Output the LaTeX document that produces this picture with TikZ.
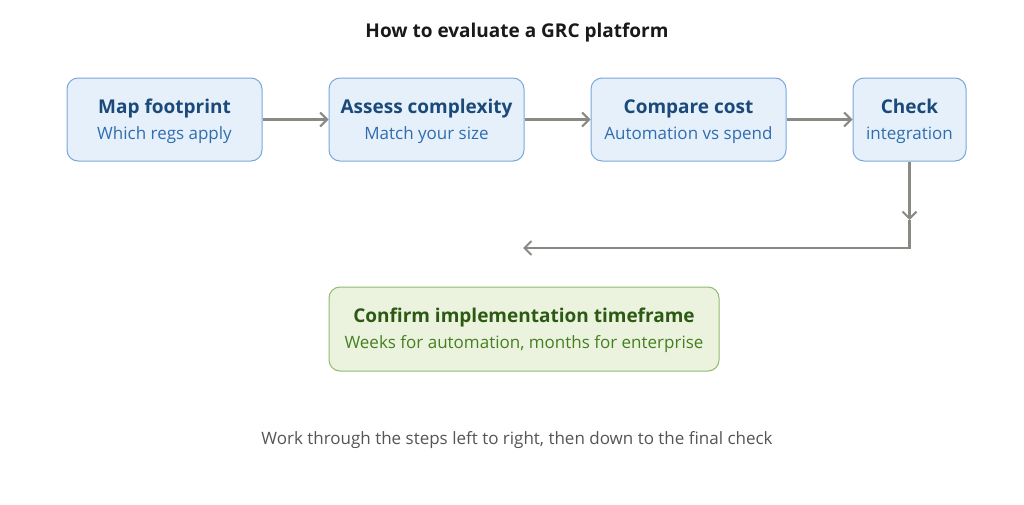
\documentclass[tikz,border=0pt]{standalone}
\usepackage{fontspec}
\setmainfont{Open Sans}
\usetikzlibrary{arrows.meta}
\definecolor{bfill}{HTML}{E6F0FA}
\definecolor{bdraw}{HTML}{7AA7D9}
\definecolor{btitle}{HTML}{1B4A7A}
\definecolor{bsub}{HTML}{2F6DB0}
\definecolor{gfill}{HTML}{EBF3DF}
\definecolor{gdraw}{HTML}{8EBB6C}
\definecolor{gtitle}{HTML}{2C5A12}
\definecolor{gsub}{HTML}{44801F}
\definecolor{arr}{HTML}{8A8A84}
\definecolor{foot}{HTML}{555555}
\tikzset{
  bbox/.style={draw=bdraw, fill=bfill, rounded corners=11pt, line width=1pt, inner sep=0pt},
  gbox/.style={draw=gdraw, fill=gfill, rounded corners=11pt, line width=1pt, inner sep=0pt},
  btxt/.style={text=btitle, font=\fontsize{19}{21}\selectfont\bfseries, inner sep=0pt},
  bstxt/.style={text=bsub, font=\fontsize{17}{20}\selectfont, inner sep=0pt},
  gtxt/.style={text=gtitle, font=\fontsize{19}{21}\selectfont\bfseries, inner sep=0pt},
  gstxt/.style={text=gsub, font=\fontsize{17}{20}\selectfont, inner sep=0pt},
  conn/.style={draw=arr, line width=2.2pt, -{Straight Barb[length=7pt,width=14pt,line width=2pt]}},
}
\begin{document}
\begin{tikzpicture}[x=1pt,y=-1pt]
\useasboundingbox[fill=white] (0,0) rectangle (1024,504);
\node[font=\fontsize{19}{21}\selectfont\bfseries, text=black!90, anchor=base] (title) at (517,37) {How to evaluate a GRC platform};

\node[bbox, minimum width=195pt, minimum height=83pt] (b1) at (164.5,119.5) {};
\node[bbox, minimum width=195pt, minimum height=83pt] (b2) at (426.5,119.5) {};
\node[bbox, minimum width=195pt, minimum height=83pt] (b3) at (688.5,119.5) {};
\node[bbox, minimum width=113pt, minimum height=83pt] (b4) at (909.5,119.5) {};
\node[gbox, minimum width=390pt, minimum height=84pt] (b5) at (524,329) {};

\node[btxt, anchor=base] (t1) at (164.5,113) {Map footprint};
\node[bstxt, anchor=base] (s1) at (164.5,139) {Which regs apply};
\node[btxt, anchor=base] (t2) at (426.5,113) {Assess complexity};
\node[bstxt, anchor=base] (s2) at (426.5,139) {Match your size};
\node[btxt, anchor=base] (t3) at (688.5,113) {Compare cost};
\node[bstxt, anchor=base] (s3) at (688.5,139) {Automation vs spend};
\node[btxt, anchor=base] (t4) at (909.5,113) {Check};
\node[bstxt, anchor=base] (s4) at (909.5,139) {integration};
\node[gtxt, anchor=base] (t5) at (524,322) {Confirm implementation timeframe};
\node[gstxt, anchor=base] (s5) at (524,348) {Weeks for automation, months for enterprise};

\node[font=\fontsize{17}{20}\selectfont, text=foot, anchor=base] (note) at (517,444) {Work through the steps left to right, then down to the final check};

\draw[conn] (b1.east) -- (b2.west);
\draw[conn] (b2.east) -- (b3.west);
\draw[conn] (b3.east) -- (b4.west);
\coordinate (c1) at (909.5,220);
\coordinate (c2) at (523,248);
\draw[conn] (b4.south) -- (c1);
\draw[conn] (c1) |- (c2);
\end{tikzpicture}
\end{document}
